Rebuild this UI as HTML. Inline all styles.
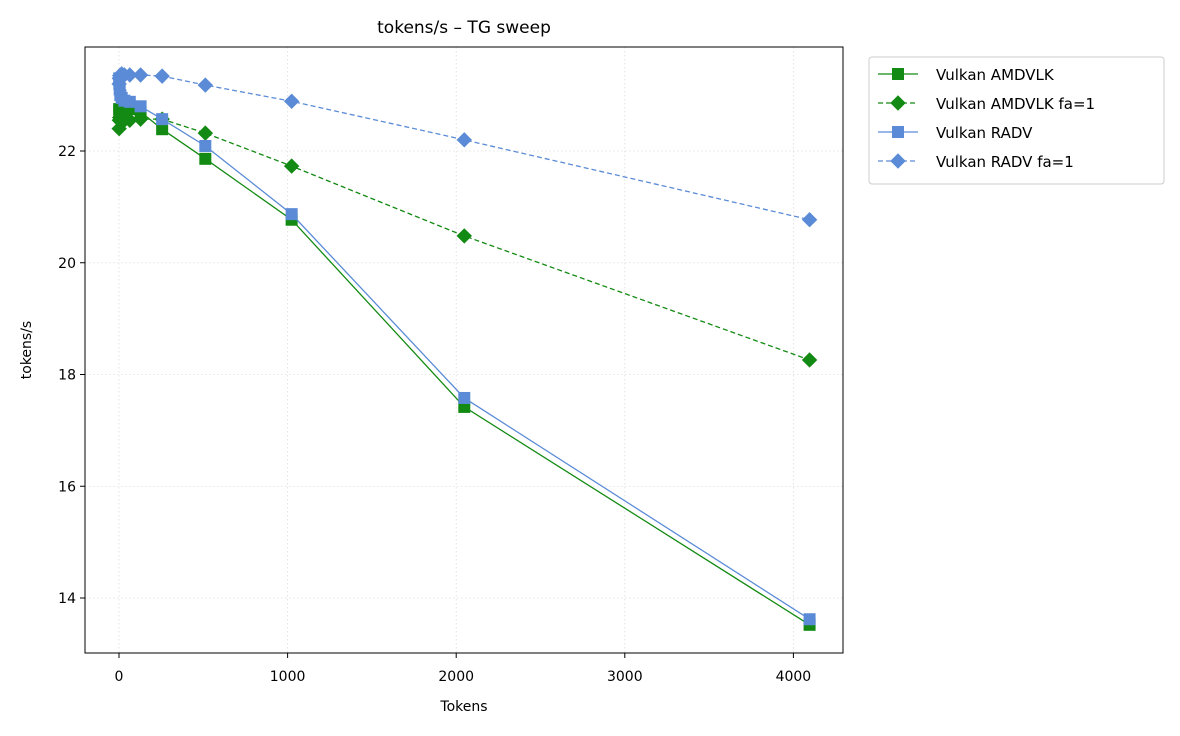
<!DOCTYPE html>
<html><head><meta charset="utf-8"><style>
body{margin:0;background:#fff;font-family:"Liberation Sans","DejaVu Sans",sans-serif}
svg text{font-family:"DejaVu Sans","Liberation Sans",sans-serif;fill:#000}
</style></head><body>
<svg id="c" width="1180" height="731"></svg>
<script>
const tokens=[1,2,4,8,16,32,64,128,256,512,1024,2048,4096];
const amdvlk=[22.75,22.7,22.65,22.6,22.62,22.6,22.75,22.7,22.39,21.86,20.77,17.42,13.52];
const amdvlkFa=[22.4,22.55,22.6,22.55,22.58,22.55,22.55,22.57,22.57,22.32,21.73,20.48,18.26];
const radv=[23.3,23.2,23.1,23.0,22.95,22.9,22.88,22.8,22.57,22.09,20.87,17.58,13.62];
const radvFa=[23.2,23.3,23.35,23.3,23.38,23.36,23.36,23.36,23.34,23.18,22.89,22.2,20.77];
const xTicks=[0,1000,2000,3000,4000];
const yTicks=[14,16,18,20,22];
const seriesNames=["Vulkan AMDVLK","Vulkan AMDVLK fa=1","Vulkan RADV","Vulkan RADV fa=1"];

const L=85,R=843,T=47,B=653;
const x=v=>119+v*0.1686;
const y=v=>151-(v-22)*55.875;
const NS="http://www.w3.org/2000/svg";
const svg=document.getElementById('c');
function mk(t,a,p){const e=document.createElementNS(NS,t);for(const k in a)e.setAttribute(k,a[k]);(p||svg).appendChild(e);return e;}

xTicks.forEach(v=>{
 const g=mk('line',{x1:x(v),x2:x(v),y1:T,y2:B,stroke:'#ddd','stroke-dasharray':'1.5,2.5','stroke-width':0.8});
 
 
 mk('line',{x1:x(v),x2:x(v),y1:B,y2:B+5,stroke:'#000'});
 const t=mk('text',{x:x(v),y:B+28,'text-anchor':'middle','font-size':14});t.textContent=v;
 
 
});
yTicks.forEach(v=>{
 const g=mk('line',{x1:L,x2:R,y1:y(v),y2:y(v),stroke:'#ddd','stroke-dasharray':'1.5,2.5','stroke-width':0.8});
 
 
 mk('line',{x1:L-5,x2:L,y1:y(v),y2:y(v),stroke:'#000'});
 const t=mk('text',{x:L-9,y:y(v)+5,'text-anchor':'end','font-size':14});t.textContent=v;
 
 
});
const frame=mk('rect',{x:L,y:T,width:R-L,height:B-T,fill:'none',stroke:'#000','stroke-width':1});



const defs=[[amdvlk,'#138a13',false,'sq'],[amdvlkFa,'#138a13',true,'dia'],[radv,'#5b8bd6',false,'sq'],[radvFa,'#5b8bd6',true,'dia']];
function marker(px,py,col,kind,parent){
 if(kind==='sq')return mk('rect',{x:px-5.5,y:py-5.5,width:11,height:11,fill:col,stroke:col},parent);
 return mk('polygon',{points:`${px},${py-7} ${px+7},${py} ${px},${py+7} ${px-7},${py}`,fill:col,stroke:col},parent);
}
defs.forEach((d,i)=>{
 const [vals,col,dash,kind]=d;
 const g=mk('g',{});
 
 
 const pts=tokens.map((t,j)=>x(t)+','+y(vals[j])).join(' ');
 const ln=mk('polyline',{points:pts,fill:'none',stroke:col,'stroke-width':1.3,'stroke-dasharray':dash?'5,3':'none'},g);
 
 
 tokens.forEach((t,j)=>{const m=marker(x(t),y(vals[j]),col,kind,g);
  
  });
});

const title=mk('text',{x:464,y:33,'text-anchor':'middle','font-size':17});title.textContent='tokens/s – TG sweep';

const xl=mk('text',{x:464,y:711,'text-anchor':'middle','font-size':14});xl.textContent='Tokens';

const yl=mk('text',{x:0,y:0,'text-anchor':'middle','font-size':14,transform:'translate(31,350) rotate(-90)'});yl.textContent='tokens/s';


const lg=mk('g',{});


mk('rect',{x:869,y:57,width:295,height:127,rx:3,fill:'#fff',stroke:'#ccc'},lg);
seriesNames.forEach((n,i)=>{
 const yy=74+i*29,[_,col,dash,kind]=defs[i];
 const e=mk('g',{},lg);
 
 
 mk('line',{x1:878,x2:918,y1:yy,y2:yy,stroke:col,'stroke-width':1.3,'stroke-dasharray':dash?'5,3':'none'},e);
 marker(898,yy,col,kind,e);
 const t=mk('text',{x:936,y:yy+6,'font-size':15},e);t.textContent=n;
});
</script>
</body></html>
